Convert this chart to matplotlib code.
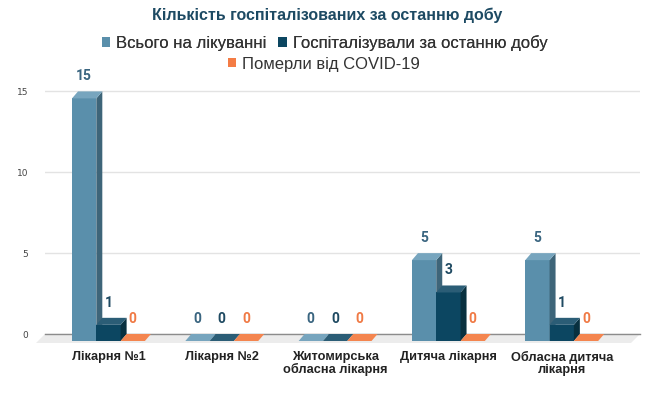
import matplotlib.pyplot as plt
from matplotlib.patches import Polygon, Rectangle
import numpy as np

# дані з графіка
categories = ['Лікарня №1', 'Лікарня №2', 'Житомирська\nобласна лікарня',
              'Дитяча лікарня', 'Обласна дитяча\nлікарня']
series_names = ['Всього на лікуванні', 'Госпіталізували за останню добу',
                'Померли від COVID-19']
total = [15, 0, 0, 5, 5]
hospitalized = [1, 0, 0, 3, 1]
died = [0, 0, 0, 0, 0]
y_ticks = [0, 5, 10, 15]
title = 'Кількість госпіталізованих за останню добу'

front_colors = ['#5a8fab', '#0c4661', '#f47c45']
side_colors = ['#3e6579', '#08303f', '#c9602f']
top_colors = ['#77a5be', '#2b5d76', '#f4854f']
label_colors = ['#3a6580', '#1f4a62', '#f07a45']

DPI = 100
fig = plt.figure(figsize=(6.56, 3.93), dpi=DPI)
ax = fig.add_axes([45 / 656, 59 / 393, 595 / 656, 262 / 393])
ax.set_xlim(-0.613, 4.638)
ax.set_ylim(0, 16.2)

# скільки даних в одному пікселі
p0 = ax.transData.transform((0, 0))
p1 = ax.transData.transform((1, 1))
px_x = p1[0] - p0[0]
px_y = p1[1] - p0[1]
dx, dy = 6 / px_x, 7 / px_y   # глибина 3D
bw = 24.3 / px_x

for s in ax.spines.values():
    s.set_visible(False)
ax.set_xticks([])
ax.set_yticks(y_ticks)
ax.tick_params(axis='y', length=0, labelsize=6.5, labelcolor='#444444', pad=12)
ax.grid(axis='y', color='#e3e3e3', lw=1)
ax.set_axisbelow(True)

# підлога
xl, xr = ax.get_xlim()
fdx, fdy = 9 / px_x, 9 / px_y
floor = Polygon([(xl, 0), (xr, 0), (xr - fdx, -fdy), (xl - fdx, -fdy)],
                closed=True, fc='#ececec', ec='none', clip_on=False, zorder=1)
ax.add_patch(floor)
ax.plot([xl, xr], [0, 0], color='#8c8c8c', lw=1, clip_on=False, zorder=1.5)

data = [total, hospitalized, died]
x = np.arange(len(categories))
for j, vals in enumerate(data):
    xs = x + (j - 1) * bw
    z = 3 + j
    ax.bar(xs - dx, vals, width=bw, bottom=-dy, color=front_colors[j],
           zorder=z, clip_on=False, label=series_names[j])
    for xi, v in zip(xs, vals):
        x_l, x_r = xi - bw / 2, xi + bw / 2
        side = Polygon([(x_r - dx, -dy), (x_r - dx, v - dy), (x_r, v), (x_r, 0)],
                       closed=True, fc=side_colors[j], ec='none', clip_on=False, zorder=z)
        top = Polygon([(x_l - dx, v - dy), (x_r - dx, v - dy), (x_r, v), (x_l, v)],
                      closed=True, fc=top_colors[j], ec='none', clip_on=False, zorder=z)
        ax.add_patch(side)
        ax.add_patch(top)
        ax.text(xi - dx, v + 15 / px_y, str(v), ha='center', va='center',
                fontsize=10, fontweight='bold', family='Roboto',
                color=label_colors[j], zorder=10)

for i, cat in enumerate(categories):
    ax.text(i - dx, -17 / px_y, cat, ha='center', va='top', fontsize=9.2,
            fontweight='bold', family='Liberation Sans', color='#222222',
            linespacing=1.0, clip_on=False)

fig.text(0.498, 1 - 15 / 393, title, ha='center', va='center', fontsize=11.5,
         fontweight='bold', family='Liberation Sans', color='#1d4a63')

handles = [Rectangle((0, 0), 1, 1, fc=c) for c in front_colors]
leg_kw = dict(loc='center', frameon=False, handlelength=0.5,
              handleheight=0.5, handletextpad=0.35, columnspacing=0.7,
              labelcolor='#333333', prop={'family': 'Liberation Sans', 'size': 12})
leg1 = fig.legend(handles[:2], series_names[:2], ncol=2,
                  bbox_to_anchor=(0.495, 1 - 43 / 393), **leg_kw)
fig.add_artist(leg1)
fig.legend(handles[2:], series_names[2:], ncol=1,
           bbox_to_anchor=(0.494, 1 - 64 / 393), **leg_kw)

fig.savefig('out.png', dpi=DPI, facecolor='white')
